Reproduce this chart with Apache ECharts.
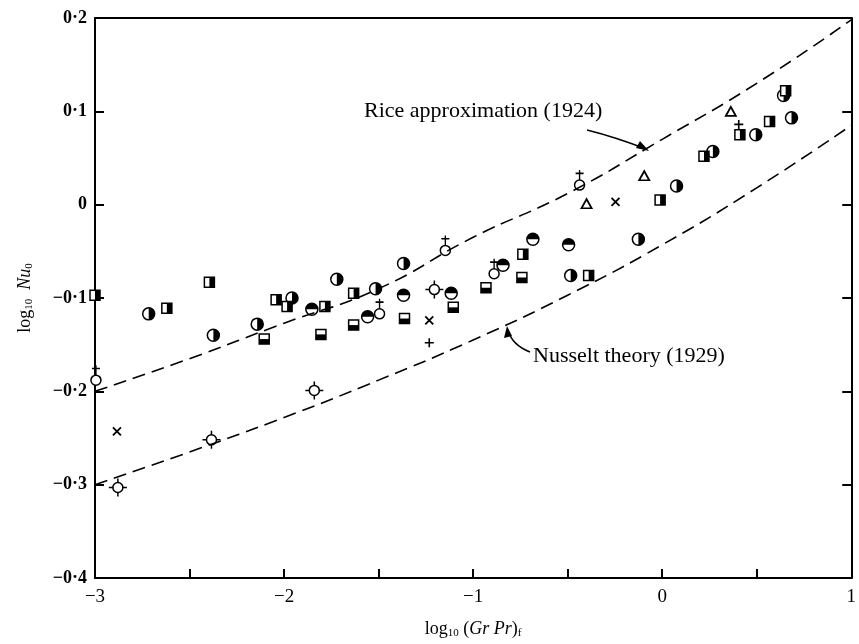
<!DOCTYPE html>
<html>
<head>
<meta charset="utf-8">
<script src="https://cdn.jsdelivr.net/npm/echarts@6/dist/echarts.min.js"></script>
<style>
html, body { margin: 0; padding: 0; background: #fff; }
#chart { width: 859px; height: 644px; }
</style>
</head>
<body>
<div id="chart"></div>
<script>
// curves
var curveX = [-3, -2.5, -2, -1.5, -1, -0.5, 0, 0.5, 1];
var riceY = [-0.200, -0.165, -0.127, -0.090, -0.035, 0.012, 0.070, 0.130, 0.198];
var nusseltY = [-0.300, -0.265, -0.228, -0.188, -0.145, -0.097, -0.043, 0.018, 0.085];

// measured points, one array per marker
var halfCircles = [[-2.716, -0.117], [-2.374, -0.140], [-2.142, -0.128], [-1.958, -0.100], [-1.721, -0.080],
    [-1.516, -0.090], [-1.368, -0.063], [-0.484, -0.076], [-0.126, -0.037], [0.076, 0.020],
    [0.268, 0.057], [0.495, 0.075], [0.684, 0.093], [0.642, 0.117]];
var topHalfCircles = [[-1.853, -0.112], [-1.558, -0.120], [-1.368, -0.097], [-1.116, -0.095],
    [-0.842, -0.065], [-0.684, -0.037], [-0.495, -0.043]];
var halfSquares = [[-3.0, -0.097], [-2.62, -0.111], [-2.395, -0.083], [-2.042, -0.102], [-1.984, -0.109],
    [-1.784, -0.109], [-1.632, -0.095], [-0.737, -0.053], [-0.389, -0.076], [-0.011, 0.005],
    [0.221, 0.052], [0.411, 0.075], [0.568, 0.089], [0.653, 0.122]];
var bottomSquares = [[-2.105, -0.144], [-1.805, -0.139], [-1.632, -0.129], [-1.363, -0.122],
    [-1.105, -0.110], [-0.932, -0.089], [-0.742, -0.078]];
var crossTopCircles = [[-2.995, -0.188], [-1.495, -0.117], [-1.147, -0.049], [-0.889, -0.074], [-0.437, 0.021]];
var tickCircles = [[-2.879, -0.303], [-2.384, -0.252], [-1.84, -0.199], [-1.205, -0.091]];
var xMarks = [[-2.884, -0.243], [-1.232, -0.124], [-0.247, 0.003]];
var plusMarks = [[-1.232, -0.148], [0.405, 0.086]];
var triangles = [[-0.40, 0.001], [-0.095, 0.031], [0.363, 0.100]];

var FONT = "'Liberation Serif', 'DejaVu Serif', serif";

function fmtY(v) {
    if (Math.abs(v) < 1e-9) return '0';
    return (v < 0 ? '\u2212' : '') + Math.abs(v).toFixed(1).replace('.', '\u00b7');
}
function fmtX(v) {
    if (Math.abs(v) < 1e-9) return '0';
    return (v < 0 ? '\u2212' : '') + Math.abs(v);
}

// one scatter layer
function layer(data, symbol, size, fill, offset, borderWidth) {
    return {
        type: 'scatter',
        data: data,
        symbol: symbol,
        symbolSize: size,
        symbolOffset: offset || [0, 0],
        silent: true,
        itemStyle: {
            color: fill,
            borderColor: '#000',
            borderWidth: borderWidth === undefined ? 1.5 : borderWidth,
            opacity: 1
        }
    };
}
function curve(values) {
    var pts = curveX.map(function (x, i) { return [x, values[i]]; });
    return {
        type: 'line',
        data: pts,
        smooth: true,
        showSymbol: false,
        silent: true,
        lineStyle: { color: '#000', width: 1.6, type: [13, 7] }
    };
}

var rightHalf = 'path://M0,0 A10,10 0 0 1 0,20 Z';
var topHalf = 'path://M0,10 A10,10 0 0 1 20,10 Z';
var crossTop = 'path://M5,0 L5,12 M0,4 L10,4';
var ticks4 = 'path://M10,0 L10,5 M10,15 L10,20 M0,10 L5,10 M15,10 L20,10';
var xPath = 'path://M0,0 L10,10 M0,10 L10,0';
var plusPath = 'path://M5,0 L5,10 M0,5 L10,5';

var series = [
    curve(riceY),
    curve(nusseltY),
    layer(halfCircles, 'circle', 12, '#fff'),
    layer(halfCircles, rightHalf, [6, 12], '#000', [3, 0], 0),
    layer(topHalfCircles, 'circle', 12, '#fff'),
    layer(topHalfCircles, topHalf, [12, 6], '#000', [0, -3], 0),
    layer(halfSquares, 'rect', 10, '#fff'),
    layer(halfSquares, 'rect', [5, 10], '#000', [2.5, 0], 0),
    layer(bottomSquares, 'rect', 10, '#fff'),
    layer(bottomSquares, 'rect', [10, 5], '#000', [0, 2.5], 0),
    layer(crossTopCircles, 'circle', 10, '#fff'),
    layer(crossTopCircles, crossTop, [8, 10], 'none', [0, -10]),
    layer(tickCircles, 'circle', 10, '#fff'),
    layer(tickCircles, ticks4, 18, 'none'),
    layer(xMarks, xPath, 8, 'none', [0, 0], 1.8),
    layer(plusMarks, plusPath, 9, 'none', [0, 0], 1.6),
    layer(triangles, 'path://M5,0 L10,9 L0,9 Z', [10, 9], '#fff', [0, 0], 1.8)
];

var myChart = echarts.init(document.getElementById('chart'));

var option = {
    animation: false,
    backgroundColor: '#fff',
    grid: { left: 95, right: 4, top: 18, bottom: 59 },
    xAxis: [{
        type: 'value', min: -3, max: 1, interval: 1,
        axisLine: { onZero: false, lineStyle: { color: '#000', width: 2 } },
        axisTick: { inside: true, length: 9, lineStyle: { color: '#000', width: 2 } },
        minorTick: { show: true, splitNumber: 2, length: 9, lineStyle: { color: '#000', width: 2 } },
        splitLine: { show: false },
        axisLabel: { formatter: fmtX, color: '#000', fontFamily: FONT, fontSize: 19, margin: 10 },
        name: '{t|log}{s|10}{t| (}{i|Gr Pr}{t|)}{s|f}',
        nameLocation: 'middle',
        nameGap: 42,
        nameTextStyle: {
            rich: {
                t: { fontFamily: FONT, fontSize: 18, color: '#000' },
                i: { fontFamily: FONT, fontSize: 18, fontStyle: 'italic', color: '#000' },
                s: { fontFamily: FONT, fontSize: 11, color: '#000', padding: [8, 0, 0, 0] }
            }
        }
    }, {
        type: 'value', min: -3, max: 1, position: 'top',
        axisLine: { onZero: false, lineStyle: { color: '#000', width: 2 } },
        axisTick: { show: false }, axisLabel: { show: false }, splitLine: { show: false }
    }],
    yAxis: [{
        type: 'value', min: -0.4, max: 0.2, interval: 0.1,
        axisLine: { onZero: false, lineStyle: { color: '#000', width: 2 } },
        axisTick: { inside: true, length: 9, lineStyle: { color: '#000', width: 2 } },
        splitLine: { show: false },
        axisLabel: { formatter: fmtY, color: '#000', fontFamily: FONT, fontSize: 18, fontWeight: 'bold', margin: 8 },
        name: '{t|log}{s|10}{t|  }{i|Nu}{s|0}',
        nameLocation: 'middle',
        nameRotate: 90,
        nameGap: 60,
        nameTextStyle: {
            rich: {
                t: { fontFamily: FONT, fontSize: 18, color: '#000' },
                i: { fontFamily: FONT, fontSize: 18, fontStyle: 'italic', color: '#000' },
                s: { fontFamily: FONT, fontSize: 11, color: '#000', padding: [8, 0, 0, 0] }
            }
        }
    }, {
        type: 'value', min: -0.4, max: 0.2, interval: 0.1, position: 'right',
        axisLine: { onZero: false, lineStyle: { color: '#000', width: 2 } },
        axisTick: { inside: true, length: 9, lineStyle: { color: '#000', width: 2 } },
        axisLabel: { show: false }, splitLine: { show: false }
    }],
    series: series,
    graphic: [
        { type: 'text', left: 364, top: 100, style: { text: 'Rice approximation (1924)', font: '22px ' + FONT, fill: '#000' } },
        { type: 'bezierCurve', shape: { x1: 587, y1: 130, cpx1: 615, cpy1: 137, x2: 646, y2: 149 },
          style: { stroke: '#000', lineWidth: 1.5, fill: 'none' } },
        { type: 'polygon', shape: { points: [[649, 151], [636, 148], [640, 141]] }, style: { fill: '#000' } },
        { type: 'text', left: 533, top: 345, style: { text: 'Nusselt theory (1929)', font: '22px ' + FONT, fill: '#000' } },
        { type: 'bezierCurve', shape: { x1: 530, y1: 352, cpx1: 512, cpy1: 345, x2: 508, y2: 330 },
          style: { stroke: '#000', lineWidth: 1.5, fill: 'none' } },
        { type: 'polygon', shape: { points: [[507, 326], [504, 338], [512, 336]] }, style: { fill: '#000' } }
    ]
};

myChart.setOption(option);
</script>
</body>
</html>
